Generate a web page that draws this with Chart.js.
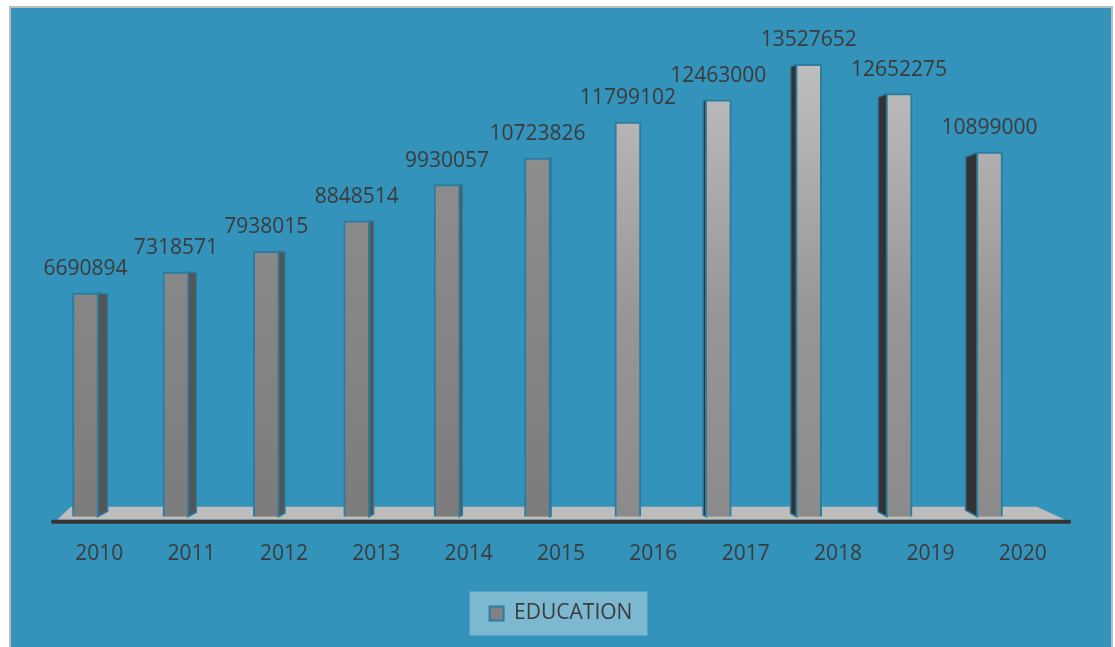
<!DOCTYPE html>
<html>
<head>
<meta charset="utf-8">
<script src="https://cdn.jsdelivr.net/npm/chart.js@4/dist/chart.umd.min.js"></script>
<style>
    html, body { margin: 0; padding: 0; background: #ffffff; }
    #wrap { position: absolute; left: 0; top: 0; width: 1115px; height: 647px; }
</style>
</head>
<body>
<div id="wrap"><canvas id="chart1" width="1115" height="647"></canvas></div>
<script>
    const years = ['2010', '2011', '2012', '2013', '2014', '2015', '2016', '2017', '2018', '2019', '2020'];
    const education = [6690894, 7318571, 7938015, 8848514, 9930057, 10723826, 11799102, 12463000, 13527652, 12652275, 10899000];
    const seriesName = 'EDUCATION';

    const textColor = '#3b3b3b';
    const edgeColor = '#2b7ca0';
    const font = { family: "'Open Sans', sans-serif", size: 21 };

    // front face shading: the first bars are flat grey, the later ones lighter at the top
    function barFill(context) {
        const chart = context.chart;
        const area = chart.chartArea;
        if (!area) return '#888888';
        const g = chart.ctx.createLinearGradient(0, area.top, 0, area.bottom);
        if (context.dataIndex < 6) {
            g.addColorStop(0, '#949494');
            g.addColorStop(1, '#7c7c7c');
        } else {
            g.addColorStop(0, '#c6c6c6');
            g.addColorStop(0.6, '#969696');
            g.addColorStop(1, '#8b8b8b');
        }
        return g;
    }

    const backdrop = {
        id: 'backdrop',
        beforeDraw(chart) {
            const ctx = chart.ctx;
            ctx.save();
            ctx.fillStyle = '#ffffff';
            ctx.fillRect(0, 0, chart.width, chart.height);
            ctx.fillStyle = '#3493bb';
            ctx.fillRect(10, 7, 1102, 642);
            ctx.strokeStyle = '#bdbdbd';
            ctx.lineWidth = 2;
            ctx.strokeRect(10, 7, 1102, 642);

            // legend panel
            const box = chart.legend.legendHitBoxes[0];
            if (box) {
                ctx.fillStyle = '#7db8d1';
                ctx.fillRect(box.left - 20, box.top + box.height / 2 - 22, box.width + 35, 44);
            }
            ctx.restore();
        }
    };

    // floor plane, axis line and the side walls of the bars
    const depth = {
        id: 'depth',
        beforeDatasetsDraw(chart) {
            const ctx = chart.ctx;
            const area = chart.chartArea;
            const b = area.bottom;
            ctx.save();
            ctx.fillStyle = '#bdbdbd';
            ctx.beginPath();
            ctx.moveTo(area.left + 4, b + 3);
            ctx.lineTo(area.left + 18, b - 10);
            ctx.lineTo(area.right - 32, b - 10);
            ctx.lineTo(area.right - 4, b + 3);
            ctx.closePath();
            ctx.fill();

            ctx.strokeStyle = '#333333';
            ctx.lineWidth = 4;
            ctx.lineCap = 'round';
            ctx.beginPath();
            ctx.moveTo(area.left, b + 5);
            ctx.lineTo(area.right, b + 5);
            ctx.stroke();

            const meta = chart.getDatasetMeta(0);
            meta.data.forEach((bar) => {
                const half = bar.width / 2;
                const dx = (620 - bar.x) / (bar.x < 620 ? 53 : 31);
                if (Math.abs(dx) < 0.8) return;
                const x0 = dx > 0 ? bar.x + half - 1 : bar.x - half + 1;
                const ad = Math.abs(dx);
                ctx.fillStyle = dx > 0 ? '#555555' : '#333333';
                ctx.beginPath();
                ctx.moveTo(x0, bar.y);
                ctx.lineTo(x0 + dx, bar.y + (dx > 0 ? 0.1 : 0.4) * ad);
                ctx.lineTo(x0 + dx, bar.base - 0.55 * ad);
                ctx.lineTo(x0, bar.base);
                ctx.closePath();
                ctx.fill();
                ctx.strokeStyle = edgeColor;
                ctx.lineWidth = 1.5;
                ctx.stroke();
            });
            ctx.restore();
        },
        afterDatasetsDraw(chart) {
            const ctx = chart.ctx;
            const meta = chart.getDatasetMeta(0);
            ctx.save();
            ctx.fillStyle = textColor;
            ctx.font = font.size + 'px ' + font.family;
            ctx.textAlign = 'center';
            ctx.textBaseline = 'middle';
            meta.data.forEach((bar, i) => {
                ctx.fillText(String(education[i]), bar.x, bar.y - 24);
            });
            ctx.restore();
        }
    };

    // BEGIN FOR CHART 1

    const data = {
        labels: years,
        datasets: [{
            label: seriesName,
            data: education.map((v, i) => ({ x: i, y: v })),
            backgroundColor: barFill,
            borderColor: edgeColor,
            borderWidth: 2,
            barThickness: 26,
            xAxisID: 'xb',
            yAxisID: 'y'
        }]
    };

    const config = {
        type: 'bar',
        data: data,
        options: {
            responsive: false,
            animation: false,
            layout: {
                padding: { left: 53, right: 46, top: 15, bottom: 13 }
            },
            scales: {
                xb: {
                    type: 'linear',
                    display: false,
                    offset: false,
                    min: -0.3595,
                    max: 10.8795
                },
                xl: {
                    type: 'category',
                    position: 'bottom',
                    offset: true,
                    grid: { display: false },
                    border: { display: false },
                    ticks: {
                        color: textColor,
                        font: font,
                        padding: 17,
                        maxRotation: 0
                    },
                    afterFit: (scale) => { scale.height += 9; }
                },
                y: {
                    display: false,
                    min: 0,
                    max: 15000000
                }
            },
            plugins: {
                legend: {
                    position: 'bottom',
                    labels: {
                        color: textColor,
                        font: font,
                        boxWidth: 14,
                        boxHeight: 14,
                        padding: 10,
                        generateLabels: () => [{
                            text: seriesName,
                            fillStyle: '#828282',
                            strokeStyle: edgeColor,
                            lineWidth: 2,
                            fontColor: textColor,
                            datasetIndex: 0
                        }]
                    }
                },
                tooltip: { enabled: false }
            }
        },
        plugins: [backdrop, depth]
    };

    const chart1 = new Chart(document.getElementById('chart1'), config);

    // END FOR CHART 1
</script>
</body>
</html>
